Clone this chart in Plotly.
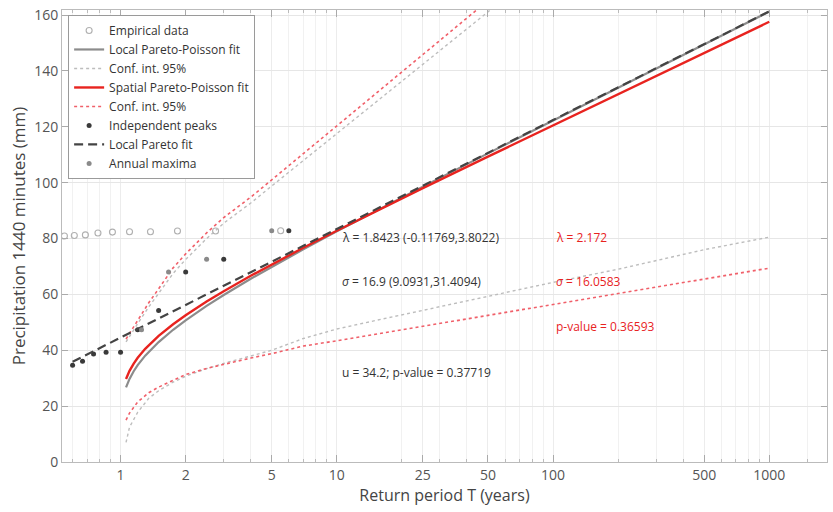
import plotly.graph_objects as go
import math

# ---------------- data ----------------
emp_T = [5.5, 2.75, 1.833, 1.375, 1.1, 0.917, 0.786, 0.6875, 0.611, 0.55]
emp_P = [82.8, 82.7, 82.7, 82.4, 82.4, 82.3, 82.0, 81.3, 81.1, 80.9]

peaks_T = [6.0, 3.0, 2.0, 1.5, 1.2, 1.0, 0.857, 0.75, 0.667, 0.6]
peaks_P = [82.8, 72.6, 68.0, 54.2, 47.3, 39.3, 39.3, 38.7, 36.1, 34.6]

amax_T = [5.0, 2.5, 1.667, 1.25]
amax_P = [82.8, 72.6, 68.0, 47.3]

fit_T = [1.06, 1.08, 1.1, 1.15, 1.2, 1.3, 1.4, 1.5, 1.75, 2, 2.5, 3, 4, 5, 7,
         10, 15, 25, 50, 100, 200, 500, 1000]
local_fit = [26.70, 28.36, 29.75, 32.50, 34.67, 38.06, 40.72, 42.94, 47.33, 50.72,
             55.88, 59.78, 65.58, 69.87, 76.13, 82.56, 89.71, 98.58, 110.47,
             122.27, 134.02, 149.54, 161.26]
spatial_fit = [29.72, 31.30, 32.61, 35.23, 37.29, 40.51, 43.04, 45.15, 49.32, 52.54,
               57.44, 61.15, 66.66, 70.74, 76.68, 82.79, 89.59, 98.02, 109.31,
               120.53, 131.70, 146.44, 157.58]

ci_T = [1.06, 1.1, 1.2, 1.35, 1.5, 1.75, 2, 2.5, 3, 4, 5, 7, 10, 15, 25, 50,
        100, 200, 500, 1000]
local_ci_up = [43.0, 45.0, 49.5, 55.5, 60.5, 67.5, 72.5, 80.0, 85.5, 92.7, 98.8,
               107.9, 117.5, 128.5, 142.4, 161.2, 179.9, 198.6, 223.4, 242.2]
local_ci_lo = [7.0, 12.5, 17.8, 22.8, 25.5, 28.6, 30.7, 33.4, 35.3, 37.8, 40.0,
               44.2, 47.6, 50.6, 54.3, 59.4, 64.3, 69.0, 76.0, 80.5]
spatial_ci_up = [44.0, 46.0, 50.5, 57.0, 62.0, 69.5, 74.5, 82.0, 87.5, 94.8, 101.0,
                 110.4, 120.4, 131.6, 145.9, 165.2, 184.5, 203.8, 229.3, 248.6]
spatial_ci_lo = [15.0, 17.5, 21.5, 24.8, 26.8, 29.3, 31.3, 33.5, 35.0, 37.2, 38.8,
                 41.5, 43.4, 45.7, 48.6, 52.5, 56.5, 60.4, 65.7, 69.4]

pareto_T = [0.6, 1, 2, 5, 10, 100, 1000]
pareto_fit = [35.9, 44.5, 56.2, 71.7, 83.4, 122.4, 161.3]

x_ticks = [1, 2, 5, 10, 25, 50, 100, 500, 1000]
y_ticks = [0, 20, 40, 60, 80, 100, 120, 140, 160]

local_text = ["λ = 1.8423 (-0.11769,3.8022)", "<i>σ</i> = 16.9 (9.0931,31.4094)",
              "u = 34.2; p-value = 0.37719"]
spatial_text = ["λ = 2.172", "<i>σ</i> = 16.0583", "p-value = 0.36593"]

# ---------------- styles ----------------
RED = "#e8231f"
RED_CI = "#f0606a"
GRAY = "#8c8c8c"
GRAY_CI = "#bdbdbd"
DARK = "#3a3a3a"
FONT = "Open Sans"

fig = go.Figure()
fig.add_trace(go.Scatter(x=emp_T, y=emp_P, mode="markers", name="Empirical data",
                         marker=dict(symbol="circle-open", size=6, color="#b0b0b0",
                                     line=dict(width=1.1))))
fig.add_trace(go.Scatter(x=fit_T, y=local_fit, mode="lines", name="Local Pareto-Poisson fit",
                         line=dict(color=GRAY, width=2.2)))
fig.add_trace(go.Scatter(x=ci_T, y=local_ci_up, mode="lines", name="Conf. int. 95%",
                         line=dict(color=GRAY_CI, width=1.4, dash="3px,3px")))
fig.add_trace(go.Scatter(x=ci_T, y=local_ci_lo, mode="lines", showlegend=False,
                         line=dict(color=GRAY_CI, width=1.4, dash="3px,3px")))
fig.add_trace(go.Scatter(x=fit_T, y=spatial_fit, mode="lines", name="Spatial Pareto-Poisson fit",
                         line=dict(color=RED, width=2.4)))
fig.add_trace(go.Scatter(x=ci_T, y=spatial_ci_up, mode="lines", name="Conf. int. 95%",
                         line=dict(color=RED_CI, width=1.6, dash="3px,3px")))
fig.add_trace(go.Scatter(x=ci_T, y=spatial_ci_lo, mode="lines", showlegend=False,
                         line=dict(color=RED_CI, width=1.6, dash="3px,3px")))
fig.add_trace(go.Scatter(x=peaks_T, y=peaks_P, mode="markers", name="Independent peaks",
                         marker=dict(size=5, color=DARK)))
fig.add_trace(go.Scatter(x=pareto_T, y=pareto_fit, mode="lines", name="Local Pareto fit",
                         line=dict(color="#444444", width=2.2, dash="9px,5px")))
fig.add_trace(go.Scatter(x=amax_T, y=amax_P, mode="markers", name="Annual maxima",
                         marker=dict(size=5, color="#8a8a8a")))

ann_y = [80.5, 64.5, 32.1]
for t, yy in zip(local_text, ann_y):
    fig.add_annotation(x=math.log10(10.3), y=yy, xref="x", yref="y", text=t,
                       showarrow=False, xanchor="left", yanchor="middle",
                       font=dict(family=FONT, size=12, color="#333333"))
for t, yy in zip(spatial_text, [80.5, 64.5, 48.5]):
    fig.add_annotation(x=math.log10(101.5), y=yy, xref="x", yref="y", text=t,
                       showarrow=False, xanchor="left", yanchor="middle",
                       font=dict(family=FONT, size=12, color=RED))

minor_vals = [0.6, 0.7, 0.8, 0.9, 3, 4, 6, 7, 8, 9, 20, 30, 40, 60, 70, 80, 90,
              200, 300, 400, 600, 700, 800, 900, 1500]

fig.update_layout(
    width=833, height=512,
    margin=dict(l=62, r=5, t=8, b=50),
    paper_bgcolor="white", plot_bgcolor="white",
    font=dict(family=FONT, color="#444444"),
    showlegend=True,
    legend=dict(x=0.008, y=0.989, xanchor="left", yanchor="top",
                bgcolor="white", bordercolor="#9a9a9a", borderwidth=1,
                font=dict(family=FONT, size=12, color="#333333"),
                tracegroupgap=0, itemwidth=30),
    xaxis=dict(type="log", range=[math.log10(0.536), math.log10(1849)],
               tickmode="array", tickvals=x_ticks, ticktext=[str(v) for v in x_ticks],
               ticks="inside", ticklen=7, tickcolor="#aaaaaa",
               showline=True, linecolor="#bbbbbb", linewidth=1, mirror="ticks",
               showgrid=True, gridcolor="#ececec", gridwidth=1,
               minor=dict(tickvals=minor_vals, ticks="inside", ticklen=3,
                          tickcolor="#bbbbbb", showgrid=True, gridcolor="#f1f1f1"),
               zeroline=False,
               tickfont=dict(family=FONT, size=14, color="#555555"),
               title=dict(text="Return period T (years)", standoff=7,
                          font=dict(family=FONT, size=16, color="#444444"))),
    yaxis=dict(range=[0, 161.8], tickmode="array", tickvals=y_ticks,
               ticks="inside", ticklen=6, tickcolor="#aaaaaa",
               showline=True, linecolor="#bbbbbb", linewidth=1, mirror="ticks",
               showgrid=True, gridcolor="#e6e6e6", zeroline=False,
               tickfont=dict(family=FONT, size=14, color="#555555"),
               title=dict(text="Precipitation 1440 minutes (mm)", standoff=4,
                          font=dict(family=FONT, size=17, color="#444444"))),
)

fig.write_html("out.html")
